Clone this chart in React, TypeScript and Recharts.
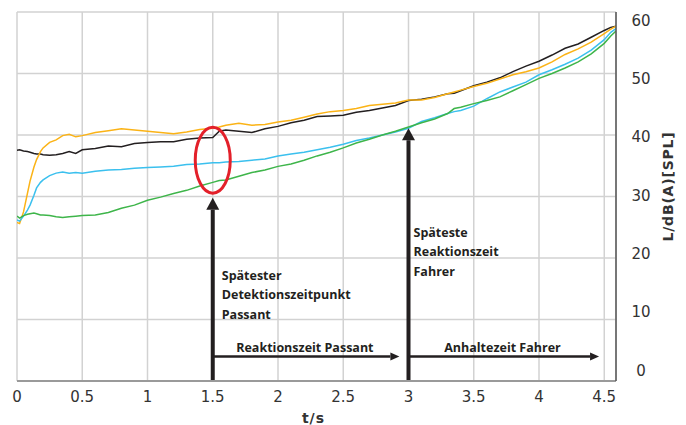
import { CartesianGrid, Line, LineChart, ReferenceDot, ReferenceLine, XAxis, YAxis } from 'recharts';

// time in seconds
const times = [
  0, 0.02, 0.05, 0.08, 0.1, 0.13, 0.15, 0.18, 0.2, 0.25, 0.3, 0.35, 0.4, 0.45, 0.5, 0.6, 0.7, 0.8, 0.9,
  1.0, 1.1, 1.2, 1.3, 1.4, 1.5, 1.55, 1.6, 1.7, 1.8, 1.9, 2.0, 2.1, 2.2, 2.3, 2.4, 2.5, 2.6, 2.7, 2.8,
  2.9, 3.0, 3.1, 3.2, 3.3, 3.35, 3.4, 3.5, 3.6, 3.7, 3.8, 3.9, 4.0, 4.1, 4.2, 4.3, 4.4, 4.5, 4.55, 4.59,
];

const blackLevels = [
  37.5, 37.6, 37.4, 37.3, 37.2, 37.0, 36.9, 36.9, 36.8, 36.7, 36.8, 37.0, 37.3, 37.0, 37.6, 37.8, 38.2, 38.1, 38.6,
  38.8, 38.9, 38.9, 39.3, 39.5, 39.6, 40.6, 40.8, 40.6, 40.4, 41.0, 41.4, 42.0, 42.4, 43.0, 43.1, 43.2, 43.7, 44.0, 44.4,
  44.8, 45.6, 45.8, 46.2, 46.7, 46.8, 47.2, 48.0, 48.6, 49.3, 50.3, 51.2, 52.0, 53.0, 54.1, 54.8, 55.9, 57.0, 57.5, 57.7,
];

const orangeLevels = [
  25.8, 25.6, 27.5, 30.5, 32.5, 34.8, 36.0, 37.3, 37.9, 38.8, 39.2, 39.9, 40.1, 39.7, 39.9, 40.4, 40.7, 41.0, 40.8,
  40.6, 40.4, 40.2, 40.5, 40.9, 41.1, 41.3, 41.6, 41.9, 41.6, 41.7, 42.1, 42.4, 42.9, 43.4, 43.8, 44.0, 44.3, 44.8, 45.0,
  45.2, 45.7, 45.7, 46.1, 46.7, 47.0, 47.3, 47.9, 48.4, 49.1, 49.8, 50.3, 50.9, 51.9, 53.1, 54.0, 55.1, 56.5, 57.2, 57.7,
];

const cyanLevels = [
  26.2, 26.0, 26.8, 27.8, 28.6, 30.2, 31.4, 32.3, 32.7, 33.4, 33.8, 34.0, 33.8, 33.9, 33.8, 34.1, 34.3, 34.4, 34.6,
  34.7, 34.8, 34.9, 35.2, 35.3, 35.5, 35.5, 35.6, 35.7, 35.9, 36.1, 36.6, 36.9, 37.2, 37.6, 38.0, 38.5, 39.1, 39.5, 40.0,
  40.5, 41.1, 42.2, 42.8, 43.5, 43.8, 44.0, 44.7, 45.9, 47.0, 47.8, 48.6, 49.8, 50.6, 51.5, 52.5, 53.8, 55.5, 56.7, 57.3,
];

const greenLevels = [
  26.8, 26.5, 26.9, 27.1, 27.2, 27.3, 27.2, 27.0, 27.0, 26.9, 26.7, 26.6, 26.7, 26.8, 26.9, 27.0, 27.4, 28.1, 28.6,
  29.4, 29.9, 30.5, 31.0, 31.7, 32.3, 32.6, 32.7, 33.3, 33.9, 34.3, 34.9, 35.3, 35.9, 36.6, 37.2, 37.9, 38.7, 39.3, 40.0,
  40.6, 41.3, 42.0, 42.6, 43.5, 44.3, 44.5, 45.1, 45.6, 46.2, 47.2, 48.2, 49.2, 50.0, 50.9, 51.9, 53.2, 54.9, 56.1, 56.9,
];

const xTicks = [0, 0.5, 1, 1.5, 2, 2.5, 3, 3.5, 4, 4.5];
const yTicks = [0, 10, 20, 30, 40, 50, 60];

// annotation anchors (data units)
const detectionTime = 1.5;
const driverReactionTime = 3.0;
const detectionArrowTip = 29.8;
const driverArrowTip = 41.1;
const spanLevel = 4.0;
const passantSpanEnd = 2.93;
const driverSpanEnd = 4.46;
const circleCenter = { x: 1.5, y: 35.9 };
const detectionText = ['Spätester', 'Detektionszeitpunkt', 'Passant'];
const driverText = ['Späteste', 'Reaktionszeit', 'Fahrer'];
const detectionTextAt = { x: 1.5, y: 17.2 };
const driverTextAt = { x: 3.0, y: 24.2 };
const passantSpanLabel = { x: 2.206, y: 5.37, text: 'Reaktionszeit Passant' };
const driverSpanLabel = { x: 3.72, y: 5.37, text: 'Anhaltezeit Fahrer' };

const data = times.map((t, i) => ({
  t,
  black: blackLevels[i],
  orange: orangeLevels[i],
  cyan: cyanLevels[i],
  green: greenLevels[i],
}));

const INK = '#231f20';
const NOTE_FONT = '"Open Sans", sans-serif';
const AXIS_FONT = '"DejaVu Sans", sans-serif';

const makeArrow = (shaft: number, headLen: number, headWidth: number) => (props: any) => {
  const { x1, y1, x2, y2 } = props;
  const dx = x2 - x1;
  const dy = y2 - y1;
  const len = Math.sqrt(dx * dx + dy * dy) || 1;
  const ux = dx / len;
  const uy = dy / len;
  const bx = x2 - ux * headLen;
  const by = y2 - uy * headLen;
  const px = -uy * (headWidth / 2);
  const py = ux * (headWidth / 2);
  return (
    <g>
      <line x1={x1} y1={y1} x2={bx} y2={by} stroke={INK} strokeWidth={shaft} />
      <polygon points={`${x2},${y2} ${bx + px},${by + py} ${bx - px},${by - py}`} fill={INK} />
    </g>
  );
};

const bigArrow = makeArrow(4, 12, 13);
const smallArrow = makeArrow(2.5, 9, 8);

const TextBlock = (lines: string[], dxPx: number) => (props: any) => {
  const { cx, cy } = props;
  return (
    <text x={cx + dxPx} y={cy} fontFamily={NOTE_FONT} fontWeight={700} fontSize={12.5} fill={INK}>
      {lines.map((line, i) => (
        <tspan key={line} x={cx + dxPx} dy={i === 0 ? 4.5 : 19.5}>
          {line}
        </tspan>
      ))}
    </text>
  );
};

const CenterText = (text: string) => (props: any) => (
  <text
    x={props.cx}
    y={props.cy + 4.5}
    textAnchor="middle"
    fontFamily={NOTE_FONT}
    fontWeight={700}
    fontSize={12.5}
    fill={INK}
  >
    {text}
  </text>
);

const Ring = (props: any) => (
  <ellipse cx={props.cx} cy={props.cy} rx={17.5} ry={33} fill="none" stroke="#e3202a" strokeWidth={3} />
);

const XTick = ({ x, y, payload }: any) => (
  <text x={x} y={y + 21} textAnchor="middle" fontFamily={AXIS_FONT} fontSize={15} fill="#333">
    {payload.value}
  </text>
);

// the value labels on the right sit on a slightly compressed scale in the original
const YTick = ({ x, y, payload }: any) => {
  const ly = 20 + (y - 12) * (350 / 369);
  return (
    <text x={x + 25} y={ly + 5.5} textAnchor="middle" fontFamily={AXIS_FONT} fontSize={15} fill="#333">
      {payload.value}
    </text>
  );
};

const YLabel = ({ viewBox }: any) => {
  const cx = viewBox.x + 52;
  const cy = viewBox.y + viewBox.height / 2 - 10;
  return (
    <text
      x={cx}
      y={cy}
      transform={`rotate(-90 ${cx} ${cy})`}
      textAnchor="middle"
      dominantBaseline="central"
      fontFamily={AXIS_FONT}
      fontWeight={700}
      fontSize={14}
      letterSpacing={0.8}
      fill="#333"
    >
      L/dB(A)[SPL]
    </text>
  );
};

const XLabel = ({ viewBox }: any) => {
  const cx = viewBox.x + viewBox.width / 2 - 3;
  return (
    <text
      x={cx}
      y={viewBox.y + 42}
      textAnchor="middle"
      fontFamily={AXIS_FONT}
      fontWeight={700}
      fontSize={14}
      letterSpacing={1}
      fill="#333"
    >
      t/s
    </text>
  );
};

export default function App() {
  return (
    <div style={{ width: 686, height: 425, background: '#fff' }}>
      <style>{'body{margin:0}'}</style>
      <LineChart width={686} height={425} data={data} margin={{ top: 12, right: 10, bottom: 14, left: 17 }}>
        <CartesianGrid stroke="#d2d2d2" strokeWidth={1.5} />
        <XAxis
          dataKey="t"
          type="number"
          domain={[0, 4.59]}
          ticks={xTicks}
          allowDataOverflow
          height={30}
          tickLine={false}
          tickSize={0}
          tickMargin={0}
          axisLine={{ stroke: '#9a9a9a', strokeWidth: 2 }}
          tick={<XTick />}
          interval={0}
          label={<XLabel />}
        />
        <YAxis
          orientation="right"
          type="number"
          domain={[0, 60]}
          ticks={yTicks}
          width={60}
          tickLine={false}
          tickSize={0}
          tickMargin={0}
          axisLine={{ stroke: '#555', strokeWidth: 1.5 }}
          tick={<YTick />}
          interval={0}
          label={<YLabel />}
        />
        <Line dataKey="black" stroke={INK} strokeWidth={1.5} dot={false} isAnimationActive={false} />
        <Line dataKey="orange" stroke="#fbb316" strokeWidth={1.5} dot={false} isAnimationActive={false} />
        <Line dataKey="cyan" stroke="#3bc0ee" strokeWidth={1.5} dot={false} isAnimationActive={false} />
        <Line dataKey="green" stroke="#3eb54a" strokeWidth={1.5} dot={false} isAnimationActive={false} />
        <ReferenceDot x={circleCenter.x} y={circleCenter.y} shape={Ring} />
        <ReferenceLine
          segment={[
            { x: detectionTime, y: 0 },
            { x: detectionTime, y: detectionArrowTip },
          ]}
          shape={bigArrow}
        />
        <ReferenceLine
          segment={[
            { x: driverReactionTime, y: 0 },
            { x: driverReactionTime, y: driverArrowTip },
          ]}
          shape={bigArrow}
        />
        <ReferenceLine
          segment={[
            { x: detectionTime, y: spanLevel },
            { x: passantSpanEnd, y: spanLevel },
          ]}
          shape={smallArrow}
        />
        <ReferenceLine
          segment={[
            { x: driverReactionTime, y: spanLevel },
            { x: driverSpanEnd, y: spanLevel },
          ]}
          shape={smallArrow}
        />
        <ReferenceDot x={detectionTextAt.x} y={detectionTextAt.y} shape={TextBlock(detectionText, 9)} />
        <ReferenceDot x={driverTextAt.x} y={driverTextAt.y} shape={TextBlock(driverText, 5)} />
        <ReferenceDot x={passantSpanLabel.x} y={passantSpanLabel.y} shape={CenterText(passantSpanLabel.text)} />
        <ReferenceDot x={driverSpanLabel.x} y={driverSpanLabel.y} shape={CenterText(driverSpanLabel.text)} />
      </LineChart>
    </div>
  );
}
